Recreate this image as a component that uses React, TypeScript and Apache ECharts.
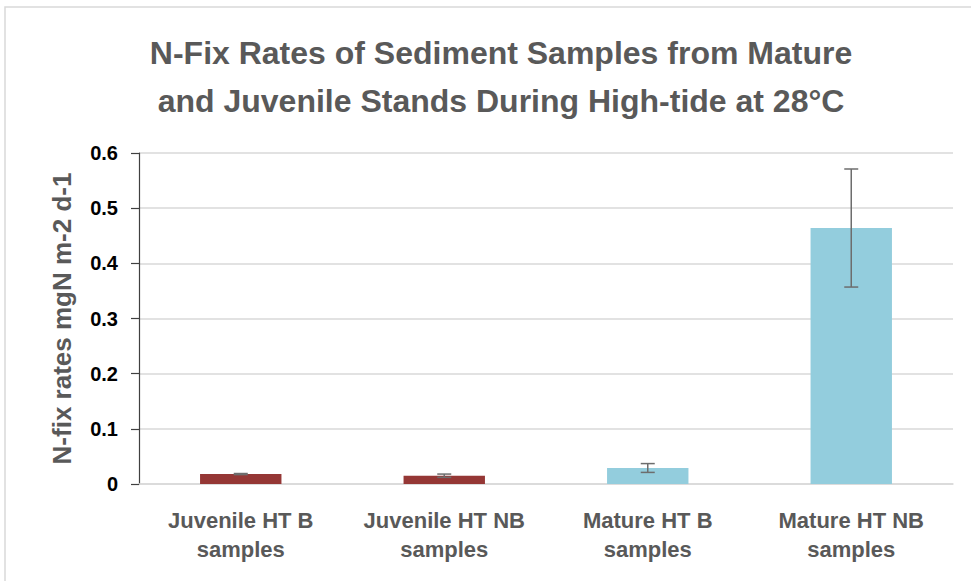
import React, { useEffect, useRef } from "react";
import * as echarts from "echarts";

const categories = [
  "Juvenile HT B\nsamples",
  "Juvenile HT NB\nsamples",
  "Mature HT B\nsamples",
  "Mature HT NB\nsamples",
];
const rates = [0.018, 0.015, 0.029, 0.464];
const errors = [0.001, 0.003, 0.008, 0.107];
const barColors = ["#953735", "#953735", "#93CDDD", "#93CDDD"];
const yTicks = [0, 0.1, 0.2, 0.3, 0.4, 0.5, 0.6];

const FONT = "'Liberation Sans', Arial, sans-serif";

export default function App() {
  const ref = useRef<HTMLDivElement>(null);

  useEffect(() => {
    if (!ref.current) return;
    const chart = echarts.init(ref.current, undefined, { renderer: "svg" });

    const errData = rates.map((v, i) => [i, v - errors[i], v + errors[i]]);

    chart.setOption({
      animation: false,
      backgroundColor: "#ffffff",
      title: {
        text: "N-Fix Rates of Sediment Samples from Mature\nand Juvenile Stands During High-tide at 28°C",
        left: 496,
        textAlign: "center",
        top: 24,
        textStyle: {
          fontFamily: FONT,
          fontSize: 32,
          fontWeight: "bold",
          color: "#595959",
          lineHeight: 48,
        },
      },
      graphic: [
        {
          type: "rect",
          shape: { x: 5, y: 7, width: 1000, height: 700 },
          style: { fill: "none", stroke: "#d9d9d9", lineWidth: 1.5 },
          silent: true,
          z: -1,
        },
      ],
      grid: { left: 139, right: 18, top: 153, bottom: 97 },
      xAxis: {
        type: "category",
        data: categories,
        axisLine: { lineStyle: { color: "#d9d9d9", width: 1.5 } },
        axisTick: { show: false },
        axisLabel: {
          margin: 22,
          fontFamily: FONT,
          fontSize: 22,
          fontWeight: "bold",
          color: "#595959",
          lineHeight: 29,
          interval: 0,
        },
      },
      yAxis: {
        type: "value",
        min: yTicks[0],
        max: yTicks[yTicks.length - 1],
        interval: 0.1,
        name: "N-fix rates mgN m-2 d-1",
        nameLocation: "middle",
        nameGap: 64,
        nameRotate: 90,
        nameTextStyle: {
          fontFamily: FONT,
          fontSize: 26,
          fontWeight: "bold",
          color: "#595959",
        },
        axisLine: { show: true, lineStyle: { color: "#404040", width: 1.2 } },
        axisTick: { show: true, length: 8, lineStyle: { color: "#404040", width: 1.2 } },
        axisLabel: {
          margin: 21,
          fontFamily: FONT,
          fontSize: 20,
          fontWeight: "bold",
          color: "#000000",
          formatter: (v: number) => (v === 0 ? "0" : v.toFixed(1)),
        },
        splitLine: { lineStyle: { color: "#d9d9d9", width: 1.5 } },
      },
      series: [
        {
          type: "bar",
          data: rates.map((v, i) => ({ value: v, itemStyle: { color: barColors[i] } })),
          barWidth: "40%",
        },
        {
          type: "custom",
          data: errData,
          z: 10,
          renderItem: (params: any, api: any) => {
            const x = api.value(0);
            const lo = api.coord([x, api.value(1)]);
            const hi = api.coord([x, api.value(2)]);
            const cap = 7;
            const style = { stroke: "#6d6d6d", lineWidth: 1.5 };
            return {
              type: "group",
              children: [
                { type: "line", shape: { x1: hi[0], y1: hi[1], x2: lo[0], y2: lo[1] }, style },
                { type: "line", shape: { x1: hi[0] - cap, y1: hi[1], x2: hi[0] + cap, y2: hi[1] }, style },
                { type: "line", shape: { x1: lo[0] - cap, y1: lo[1], x2: lo[0] + cap, y2: lo[1] }, style },
              ],
            };
          },
        },
      ],
    });

    return () => chart.dispose();
  }, []);

  return <div ref={ref} style={{ width: 971, height: 581, position: "absolute", left: 0, top: 0 }} />;
}
